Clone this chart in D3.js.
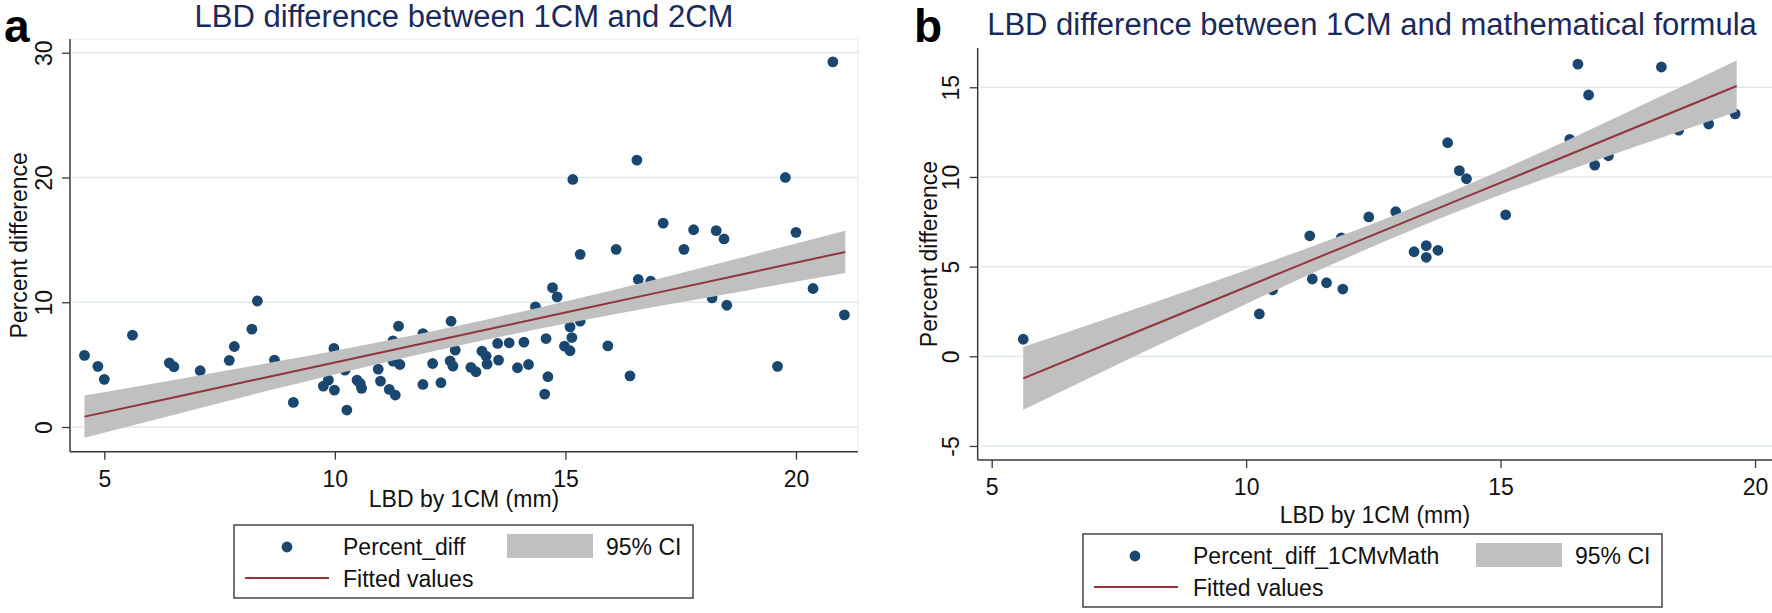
<!DOCTYPE html>
<html><head><meta charset="utf-8">
<script src="https://cdn.jsdelivr.net/npm/d3@7"></script>
<style>body{margin:0;background:#fff;} text{font-family:"Liberation Sans",Arial,sans-serif;}</style>
</head><body><svg id="c" width="1772" height="613"></svg>
<script>
// ---------- Panel a data ----------
const aTitle = "LBD difference between 1CM and 2CM";
const aPointX = [4.57,4.86,5.00,5.61,6.41,6.51,7.08,7.71,7.82,8.20,8.32,8.69,9.10,9.75,9.86,9.98,9.99,10.22,10.26,10.48,10.55,10.58,10.94,10.99,11.18,11.31,11.26,11.38,11.26,11.41,11.91,11.91,12.12,12.30,12.52,12.50,12.56,12.61,12.95,13.06,13.19,13.28,13.30,13.53,13.55,13.78,13.96,14.10,14.20,14.35,14.58,14.62,14.55,14.72,14.82,14.98,15.10,15.10,15.14,15.32,15.32,15.16,16.10,15.92,16.40,16.55,16.58,16.85,17.12,17.78,17.57,18.27,18.44,18.18,18.50,19.77,20.00,20.37,19.60,20.80,21.05];
const aPointY = [5.74,4.86,3.82,7.36,5.14,4.83,4.51,5.34,6.45,7.84,10.10,5.36,1.97,3.28,3.76,6.30,2.96,4.56,1.36,3.76,3.49,3.10,4.64,3.68,3.01,2.56,6.91,8.08,5.28,5.01,7.49,3.41,5.09,3.55,8.48,5.30,4.88,6.16,4.78,4.43,6.08,5.68,5.04,6.70,5.36,6.75,4.75,6.80,5.01,9.63,7.09,4.03,2.64,11.17,10.43,6.48,6.11,8.03,7.17,8.48,13.84,19.84,14.24,6.50,4.10,21.39,11.82,11.68,16.34,15.81,14.24,15.74,15.07,10.35,9.76,20.00,15.60,11.10,4.86,29.26,8.99];
const aFitX = [4.57,6.6,8.7,10.7,12.8,14.9,17.0,19.0,21.07];
const aFitY = [0.83,2.45,4.13,5.73,7.41,9.09,10.77,12.37,14.03];
const aCiLo = [-0.86,1.07,3.04,4.85,6.61,8.21,9.67,10.99,12.34];
const aCiHi = [2.52,3.83,5.22,6.62,8.21,9.98,11.87,13.75,15.72];
const aXTicks = [5,10,15,20];
const aYTicks = [0,10,20,30];
const aSeriesName = "Percent_diff";

// ---------- Panel b data ----------
const bTitle = "LBD difference between 1CM and mathematical formula";
const bPointX = [5.62,10.26,10.52,11.30,11.58,11.25,11.90,11.87,12.41,12.94,13.30,13.54,13.54,13.77,13.96,14.19,14.33,15.10,16.36,16.52,16.73,16.85,17.12,18.16,18.50,19.09,19.61];
const bPointY = [0.95,2.36,3.70,4.31,4.10,6.72,3.75,6.60,7.77,8.06,5.83,6.17,5.52,5.91,11.91,10.35,9.90,7.89,12.10,16.29,14.57,10.66,11.18,16.13,12.61,12.95,13.52];
const bFitX = [5.62,7.4,9.2,11.0,12.8,14.5,16.2,17.9,19.64];
const bFitY = [-1.23,0.84,2.93,5.03,7.12,9.10,11.07,13.05,15.07];
const bCiLo = [-2.98,-0.56,1.85,4.24,6.50,8.46,10.24,11.94,13.64];
const bCiHi = [0.52,2.24,4.01,5.82,7.74,9.74,11.90,14.16,16.50];
const bXTicks = [5,10,15,20];
const bYTicks = [-5,0,5,10,15];
const bSeriesName = "Percent_diff_1CMvMath";

const xAxisTitle = "LBD by 1CM (mm)";
const yAxisTitle = "Percent difference";
const ciName = "95% CI";
const fitName = "Fitted values";

const C = {dot:"#1a476f", band:"#c0c0c0", fit:"#90353b", title:"#1a2a5a", grid:"#dfe9ec", axis:"#3a3a3a"};
const svg = d3.select("#c");
svg.append("rect").attr("width",1772).attr("height",613).attr("fill","#fff");

function panel(o){
  const x = d3.scaleLinear().domain(o.xd).range([o.l,o.r]);
  const y = d3.scaleLinear().domain(o.yd).range([o.b,o.t]);
  const g = svg.append("g");
  if(o.frame){
    g.append("path").attr("d",`M${o.l+3},${o.t}H${o.r}V${o.b}`).attr("fill","none").attr("stroke","#eef4f6").attr("stroke-width",1.5);
  }
  // grid
  g.selectAll(".gl").data(o.yt).enter().append("line")
    .attr("x1",o.l+3).attr("x2",o.r).attr("y1",d=>y(d)).attr("y2",d=>y(d))
    .attr("stroke",C.grid).attr("stroke-width",1.5);
  // points
  g.selectAll(".pt").data(o.px.map((v,i)=>[v,o.py[i]])).enter().append("circle")
    .attr("cx",d=>x(d[0])).attr("cy",d=>y(d[1])).attr("r",5.4).attr("fill",C.dot);
  // band
  const fd = o.fx.map((v,i)=>({x:v,f:o.fy[i],lo:o.lo[i],hi:o.hi[i]}));
  g.append("path").datum(fd).attr("fill",C.band)
    .attr("d",d3.area().curve(d3.curveMonotoneX).x(d=>x(d.x)).y0(d=>y(d.lo)).y1(d=>y(d.hi)));
  g.append("path").datum(fd).attr("fill","none").attr("stroke",C.fit).attr("stroke-width",2)
    .attr("d",d3.line().x(d=>x(d.x)).y(d=>y(d.f)));
  // axes
  const fmt = d=>String(d);
  const ya = g.append("g").attr("transform",`translate(${o.l},0)`)
    .call(d3.axisLeft(y).tickValues(o.yt).tickFormat(fmt).tickSize(8).tickSizeOuter(0));
  ya.select(".domain").attr("stroke",C.axis).attr("stroke-width",1.5).attr("d",`M0,${o.t}V${o.b}`);
  ya.selectAll(".tick line").attr("stroke",C.axis).attr("stroke-width",1.3);
  ya.selectAll(".tick text").attr("transform","rotate(-90)").attr("x",0).attr("y",-o.ytl).attr("dy",0)
    .attr("text-anchor","middle").style("font-size","23px").attr("fill","#111");
  const xa = g.append("g").attr("transform",`translate(0,${o.b})`)
    .call(d3.axisBottom(x).tickValues(o.xt).tickFormat(fmt).tickSize(8).tickSizeOuter(0));
  xa.select(".domain").attr("stroke",C.axis).attr("stroke-width",1.5).attr("d",`M${o.l},0H${o.r}`);
  xa.selectAll(".tick line").attr("stroke",C.axis).attr("stroke-width",1.3);
  xa.selectAll(".tick text").attr("y",o.xtl).attr("dy",0).style("font-size","23px").attr("fill","#111");
  // titles
  const cx = (o.l+o.r)/2;
  g.append("text").attr("x",o.tx).attr("y",o.ty).attr("text-anchor","middle")
    .style("font-size","31px").attr("fill",C.title).text(o.title);
  g.append("text").attr("x",o.lx).attr("y",o.ly).style("font-size","46px").style("font-weight","bold")
    .attr("fill","#000").text(o.letter);
  g.append("text").attr("x",cx).attr("y",o.xlab).attr("text-anchor","middle").style("font-size","23px")
    .attr("fill","#111").text(xAxisTitle);
  g.append("text").attr("transform",`translate(${o.ylabx},${(o.t+o.b)/2}) rotate(-90)`).attr("text-anchor","middle")
    .style("font-size","23px").attr("fill","#111").text(yAxisTitle);
  // legend
  const L = o.leg;
  g.append("rect").attr("x",L.x0).attr("y",L.y0).attr("width",L.x1-L.x0).attr("height",L.y1-L.y0)
    .attr("fill","#fff").attr("stroke","#444").attr("stroke-width",1.5);
  g.append("circle").attr("cx",L.dotx).attr("cy",L.y0+22).attr("r",5.4).attr("fill",C.dot);
  g.append("text").attr("x",L.tx).attr("y",L.y0+30).style("font-size","23px").attr("fill","#111").text(o.series);
  g.append("rect").attr("x",L.rx0).attr("y",L.y0+9).attr("width",L.rx1-L.rx0).attr("height",24).attr("fill",C.band);
  g.append("text").attr("x",L.cix).attr("y",L.y0+30).style("font-size","23px").attr("fill","#111").text(ciName);
  g.append("line").attr("x1",L.lx0).attr("x2",L.lx1).attr("y1",L.y0+53).attr("y2",L.y0+53)
    .attr("stroke",C.fit).attr("stroke-width",2);
  g.append("text").attr("x",L.tx).attr("y",L.y0+62).style("font-size","23px").attr("fill","#111").text(fitName);
}

panel({l:70,r:858,t:39,b:451.7,xd:[4.256,21.345],yd:[-1.98,31.098],
  px:aPointX,py:aPointY,fx:aFitX,fy:aFitY,lo:aCiLo,hi:aCiHi,xt:aXTicks,yt:aYTicks,
  ytl:18,xtl:35,title:aTitle,tx:464,ty:27,letter:"a",lx:4,ly:42,xlab:507,ylabx:27,frame:true,series:aSeriesName,
  leg:{x0:234,y0:525,x1:693,y1:598,dotx:287,tx:343,rx0:507,rx1:593,cix:606,lx0:245,lx1:329}});
panel({l:977.7,r:1772,t:48,b:460,xd:[4.725,20.334],yd:[-5.782,17.19],
  px:bPointX,py:bPointY,fx:bFitX,fy:bFitY,lo:bCiLo,hi:bCiHi,xt:bXTicks,yt:bYTicks,
  ytl:19,xtl:35,title:bTitle,tx:1372,ty:35,letter:"b",lx:914,ly:42,xlab:523,ylabx:937,frame:false,series:bSeriesName,
  leg:{x0:1083,y0:534,x1:1662,y1:607,dotx:1135,tx:1193,rx0:1476,rx1:1562,cix:1575,lx0:1094,lx1:1178}});
</script></body></html>
